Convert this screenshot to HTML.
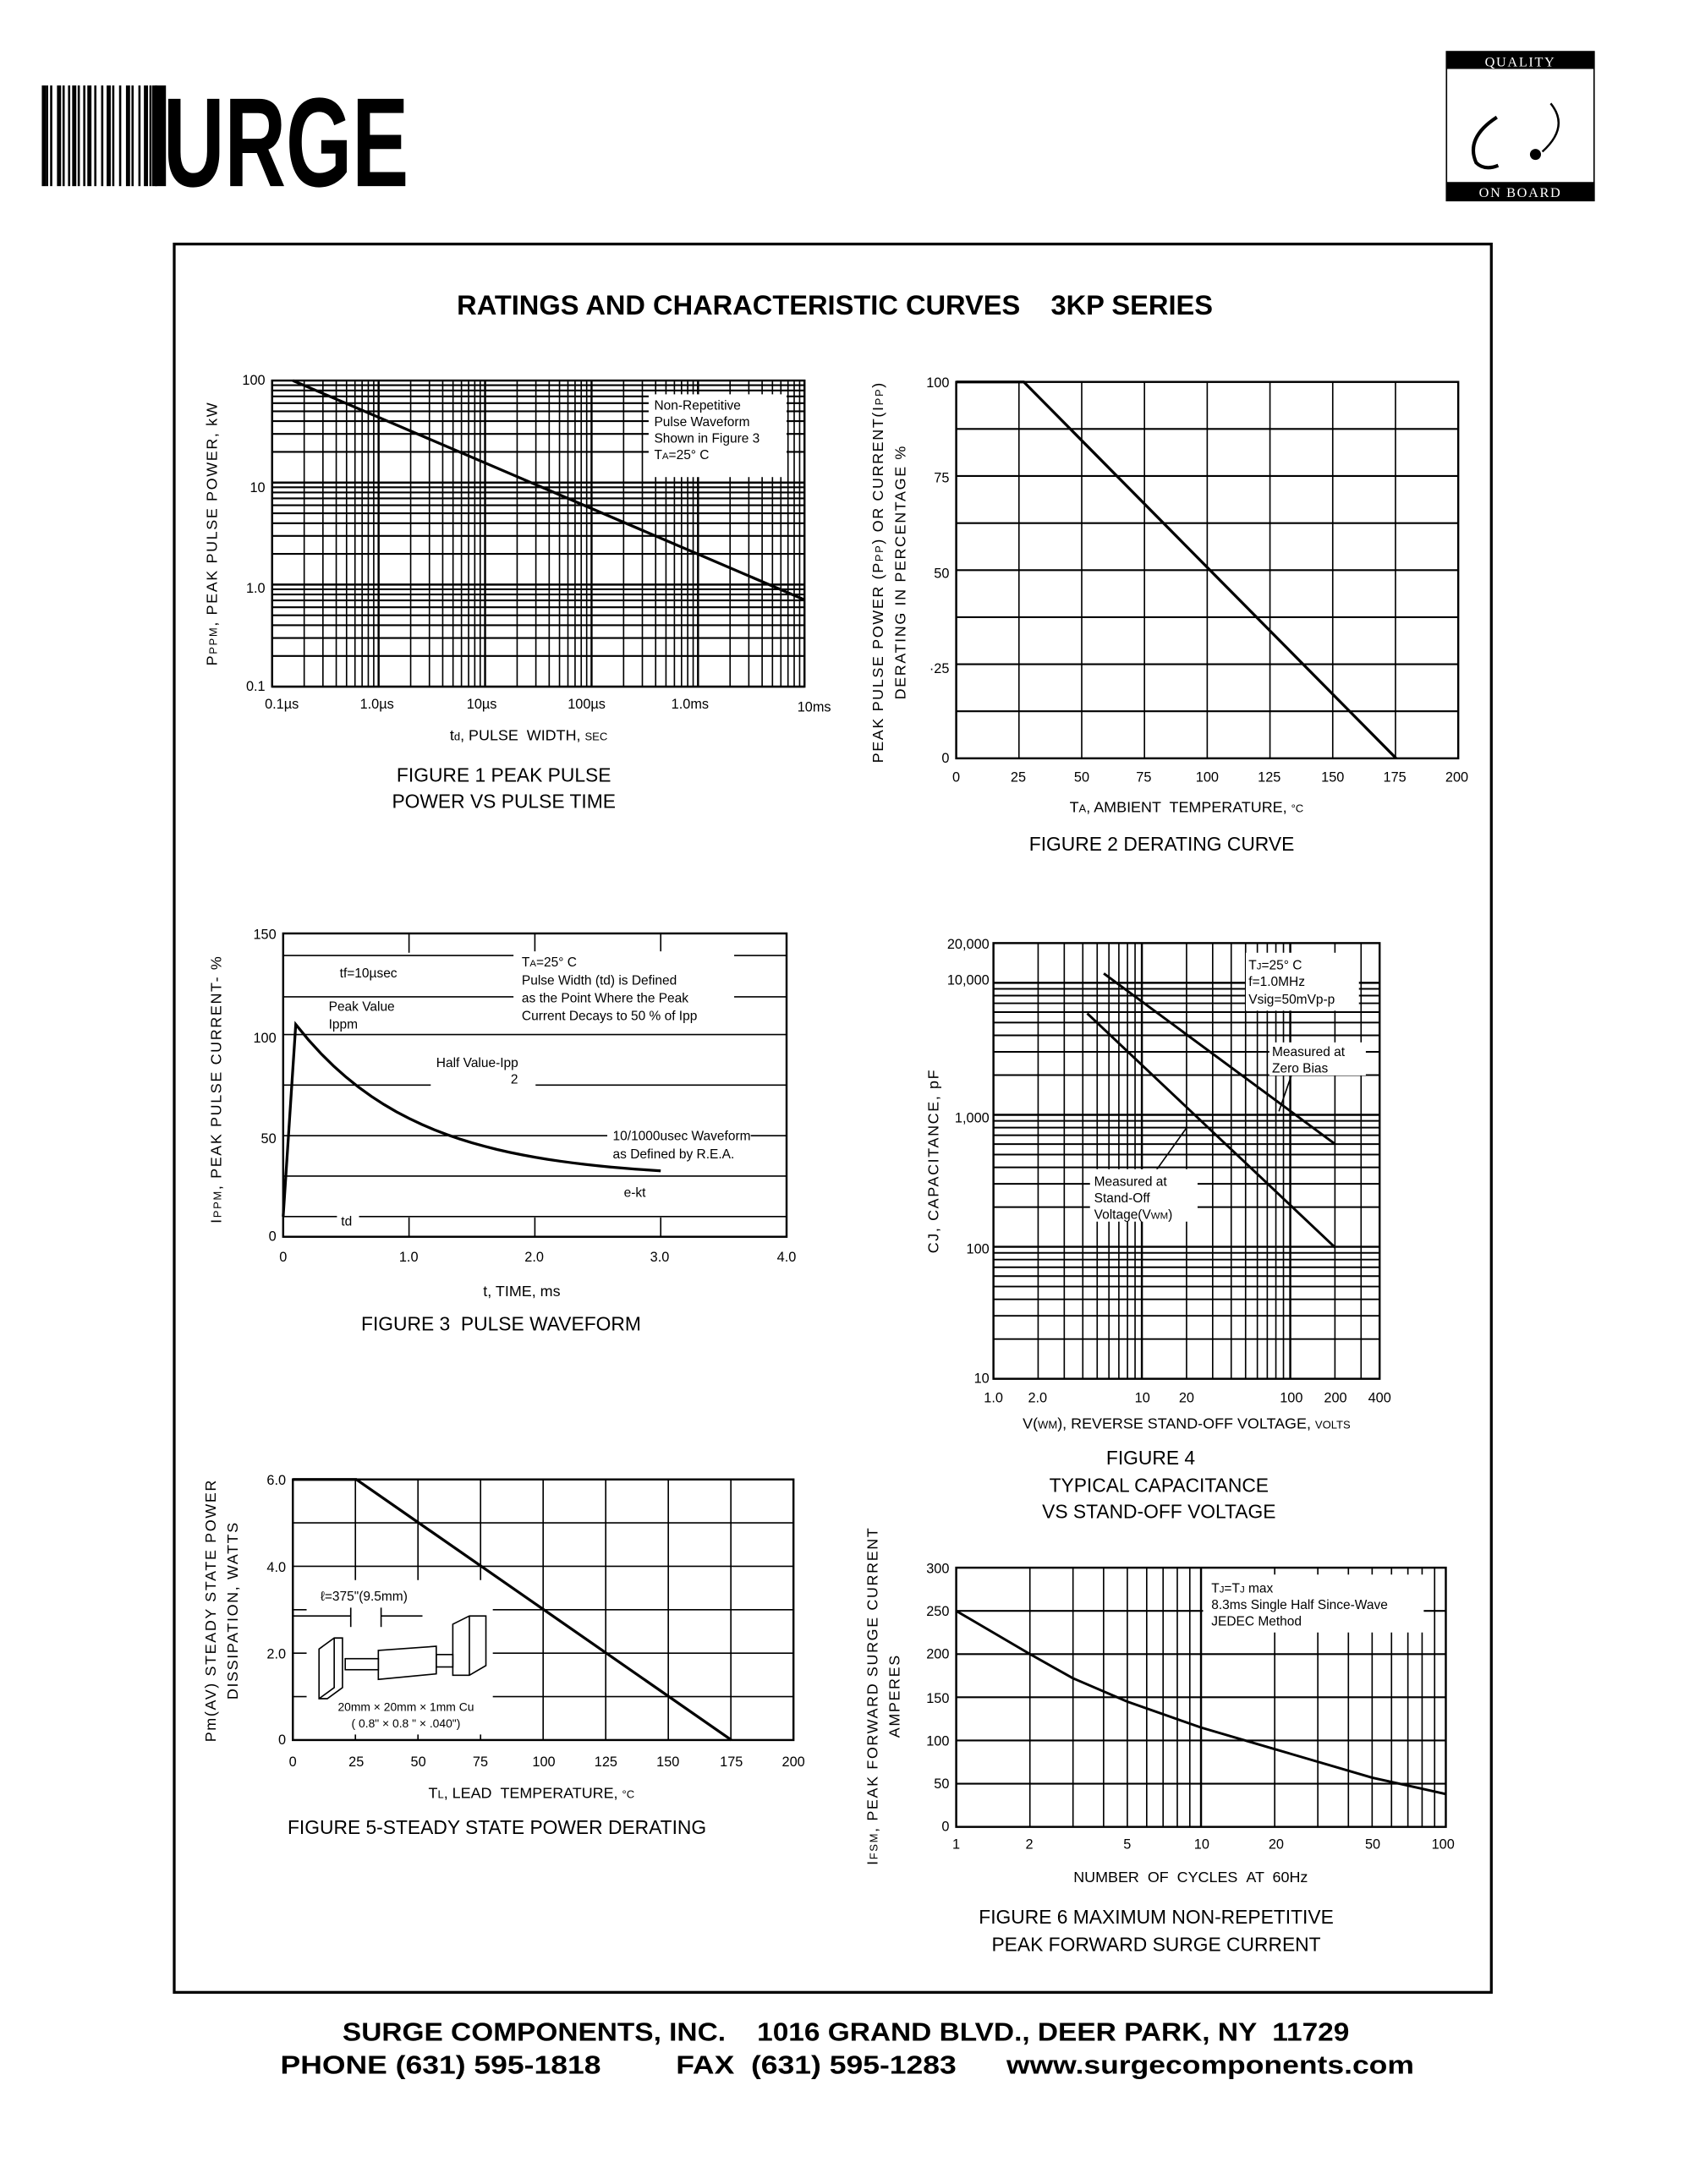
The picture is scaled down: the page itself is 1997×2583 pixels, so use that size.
<!DOCTYPE html>
<html><head><meta charset="utf-8"><style>
html,body{margin:0;padding:0;background:#fff}
svg{display:block}
text{font-family:"Liberation Sans",Arial,sans-serif;fill:#000}
</style></head><body>
<svg id="s" width="1997" height="2583" viewBox="0 0 1224 1584" xmlns="http://www.w3.org/2000/svg">
<rect width="1224" height="1584" fill="#fff"/>
<!-- logo -->
<g id="bars"></g>
<text x="118" y="135" font-size="92" font-weight="bold" transform="scale(1,1)" textLength="178" lengthAdjust="spacingAndGlyphs" style="font-family:'Liberation Sans Narrow','Liberation Sans',sans-serif">URGE</text>
<!-- quality box -->
<rect x="1048.5" y="37.5" width="107" height="108" fill="none" stroke="#000"/>
<rect x="1048" y="37" width="108" height="13" fill="#000"/>
<rect x="1048" y="132" width="108" height="14" fill="#000"/>
<text x="1102" y="48" font-size="10" text-anchor="middle" style="fill:#fff;font-family:'Liberation Serif',serif" letter-spacing="1">QUALITY</text>
<text x="1102" y="143" font-size="10" text-anchor="middle" style="fill:#fff;font-family:'Liberation Serif',serif" letter-spacing="1">ON BOARD</text>
<path d="M1085 85 Q1062 100 1070 118 Q1076 124 1086 120" fill="none" stroke="#000" stroke-width="2.5"/>
<path d="M1124 75 Q1138 92 1118 110" fill="none" stroke="#000" stroke-width="1.5"/>
<circle cx="1113" cy="112" r="4" fill="#000"/>
<!-- frame -->
<rect x="126" y="177" width="955" height="1268" fill="none" stroke="#000" stroke-width="2"/>
<text x="605" y="228" font-size="20" font-weight="bold" text-anchor="middle">RATINGS AND CHARACTERISTIC CURVES &#160;&#160; 3KP SERIES</text>
<g id="grids" stroke="#000" fill="none"></g>

<!-- FIG 1 -->
<g font-size="10">
<text x="192" y="279" text-anchor="end">100</text>
<text x="192" y="357" text-anchor="end">10</text>
<text x="192" y="430" text-anchor="end">1.0</text>
<text x="192" y="501" text-anchor="end">0.1</text>
<text x="204" y="514" text-anchor="middle">0.1µs</text>
<text x="273" y="514" text-anchor="middle">1.0µs</text>
<text x="349" y="514" text-anchor="middle">10µs</text>
<text x="425" y="514" text-anchor="middle">100µs</text>
<text x="500" y="514" text-anchor="middle">1.0ms</text>
<text x="590" y="516" text-anchor="middle">10ms</text>
</g>
<rect x="470" y="286" width="100" height="60" fill="#fff"/>
<g font-size="9.5"><text x="474" y="297">Non-Repetitive</text><text x="474" y="309">Pulse Waveform</text><text x="474" y="321">Shown in Figure 3</text><text x="474" y="333">T<tspan font-size="7">A</tspan>=25° C</text></g>
<text x="383" y="537" font-size="11" text-anchor="middle">t<tspan font-size="8">d</tspan>, PULSE &#160;WIDTH, <tspan font-size="8">SEC</tspan></text>
<text x="365" y="567" font-size="14" text-anchor="middle">FIGURE 1 PEAK PULSE</text>
<text x="365" y="586" font-size="14" text-anchor="middle">POWER VS PULSE TIME</text>
<text transform="translate(157,387) rotate(-90)" font-size="11" text-anchor="middle" letter-spacing="1">P<tspan font-size="8">PPM</tspan>, PEAK PULSE POWER, kW</text>

<!-- FIG 2 -->
<g font-size="10">
<text x="688" y="281" text-anchor="end">100</text><text x="688" y="350" text-anchor="end">75</text><text x="688" y="419" text-anchor="end">50</text><text x="688" y="488" text-anchor="end">·25</text><text x="688" y="553" text-anchor="end">0</text>
<text x="693" y="567" text-anchor="middle">0</text><text x="738" y="567" text-anchor="middle">25</text><text x="784" y="567" text-anchor="middle">50</text><text x="829" y="567" text-anchor="middle">75</text><text x="875" y="567" text-anchor="middle">100</text><text x="920" y="567" text-anchor="middle">125</text><text x="966" y="567" text-anchor="middle">150</text><text x="1011" y="567" text-anchor="middle">175</text><text x="1056" y="567" text-anchor="middle">200</text>
</g>
<text x="860" y="589" font-size="11" text-anchor="middle">T<tspan font-size="8">A</tspan>, AMBIENT &#160;TEMPERATURE, <tspan font-size="8">°C</tspan></text>
<text x="842" y="617" font-size="14" text-anchor="middle">FIGURE 2 DERATING CURVE</text>
<text transform="translate(640,415) rotate(-90)" font-size="11" text-anchor="middle" letter-spacing="1">PEAK PULSE POWER (P<tspan font-size="8">PP</tspan>) OR CURRENT(I<tspan font-size="8">PP</tspan>)</text>
<text transform="translate(656,415) rotate(-90)" font-size="11" text-anchor="middle" letter-spacing="1">DERATING IN PERCENTAGE %</text>

<!-- FIG 3 -->
<g font-size="10">
<text x="200" y="681" text-anchor="end">150</text><text x="200" y="756" text-anchor="end">100</text><text x="200" y="829" text-anchor="end">50</text><text x="200" y="900" text-anchor="end">0</text>
<text x="205" y="915" text-anchor="middle">0</text><text x="296" y="915" text-anchor="middle">1.0</text><text x="387" y="915" text-anchor="middle">2.0</text><text x="478" y="915" text-anchor="middle">3.0</text><text x="570" y="915" text-anchor="middle">4.0</text>
</g>
<g font-size="9.5">
<rect x="372" y="690" width="160" height="52" fill="#fff"/>
<text x="378" y="701">T<tspan font-size="7">A</tspan>=25° C</text><text x="378" y="714">Pulse Width (td) is Defined</text><text x="378" y="727">as the Point Where the Peak</text><text x="378" y="740">Current Decays to 50 % of Ipp</text>
<rect x="244" y="700" width="56" height="12" fill="#fff"/><text x="246" y="709">tf=10µsec</text>
<text x="238" y="733">Peak Value</text><text x="238" y="746">Ippm</text>
<rect x="312" y="764" width="76" height="24" fill="#fff"/><text x="316" y="774">Half Value-Ipp</text><text x="370" y="786">2</text>
<rect x="440" y="818" width="104" height="24" fill="#fff"/><text x="444" y="827">10/1000usec Waveform</text><text x="444" y="840">as Defined by R.E.A.</text>
<rect x="448" y="858" width="28" height="12" fill="#fff"/><text x="452" y="868">e-kt</text>
<rect x="244" y="880" width="16" height="12" fill="#fff"/><text x="247" y="889">td</text>
</g>
<text x="378" y="940" font-size="11" text-anchor="middle">t, TIME, ms</text>
<text x="363" y="965" font-size="14" text-anchor="middle">FIGURE 3 &#160;PULSE WAVEFORM</text>
<text transform="translate(160,790) rotate(-90)" font-size="11" text-anchor="middle" letter-spacing="1">I<tspan font-size="8">PPM</tspan>, PEAK PULSE CURRENT- %</text>

<!-- FIG 4 -->
<g font-size="10">
<text x="717" y="688" text-anchor="end">20,000</text><text x="717" y="714" text-anchor="end">10,000</text><text x="717" y="814" text-anchor="end">1,000</text><text x="717" y="909" text-anchor="end">100</text><text x="717" y="1003" text-anchor="end">10</text>
<text x="720" y="1017" text-anchor="middle">1.0</text><text x="752" y="1017" text-anchor="middle">2.0</text><text x="828" y="1017" text-anchor="middle">10</text><text x="860" y="1017" text-anchor="middle">20</text><text x="936" y="1017" text-anchor="middle">100</text><text x="968" y="1017" text-anchor="middle">200</text><text x="1000" y="1017" text-anchor="middle">400</text>
</g>
<g font-size="9.5">
<rect x="903" y="691" width="82" height="42" fill="#fff"/>
<text x="905" y="703">T<tspan font-size="7">J</tspan>=25° C</text><text x="905" y="715">f=1.0MHz</text><text x="905" y="728">Vsig=50mVp-p</text>
<rect x="920" y="756" width="70" height="24" fill="#fff"/><text x="922" y="766">Measured at</text><text x="922" y="778">Zero Bias</text>
<rect x="790" y="848" width="78" height="38" fill="#fff"/><text x="793" y="860">Measured at</text><text x="793" y="872">Stand-Off</text><text x="793" y="884">Voltage(V<tspan font-size="7">WM</tspan>)</text>
</g>
<text x="860" y="1036" font-size="11" text-anchor="middle">V(<tspan font-size="8">WM</tspan>), REVERSE STAND-OFF VOLTAGE, <tspan font-size="8">VOLTS</tspan></text>
<text x="834" y="1062" font-size="14" text-anchor="middle">FIGURE 4</text>
<text x="840" y="1082" font-size="14" text-anchor="middle">TYPICAL CAPACITANCE</text>
<text x="840" y="1101" font-size="14" text-anchor="middle">VS STAND-OFF VOLTAGE</text>
<text transform="translate(680,842) rotate(-90)" font-size="11" text-anchor="middle" letter-spacing="1">CJ, CAPACITANCE, pF</text>

<!-- FIG 5 -->
<g font-size="10">
<text x="207" y="1077" text-anchor="end">6.0</text><text x="207" y="1140" text-anchor="end">4.0</text><text x="207" y="1203" text-anchor="end">2.0</text><text x="207" y="1265" text-anchor="end">0</text>
<text x="212" y="1281" text-anchor="middle">0</text><text x="258" y="1281" text-anchor="middle">25</text><text x="303" y="1281" text-anchor="middle">50</text><text x="348" y="1281" text-anchor="middle">75</text><text x="394" y="1281" text-anchor="middle">100</text><text x="439" y="1281" text-anchor="middle">125</text><text x="484" y="1281" text-anchor="middle">150</text><text x="530" y="1281" text-anchor="middle">175</text><text x="575" y="1281" text-anchor="middle">200</text>
</g>
<rect x="222" y="1146" width="135" height="112" fill="#fff"/>
<text x="232" y="1161" font-size="9.5">ℓ=375"(9.5mm)</text>
<g stroke="#000" fill="none">
<line x1="212" y1="1172" x2="254" y2="1172"/><line x1="254" y1="1166" x2="254" y2="1180"/><line x1="276" y1="1166" x2="276" y2="1180"/><line x1="276" y1="1172" x2="306" y2="1172"/>
<path d="M231 1196 L242 1188 L248 1188 L248 1224 L237 1232 L231 1232 Z M242 1188 L242 1224 L231 1232"/>
<rect x="250" y="1203" width="24" height="8"/>
<path d="M274 1197 L316 1194 L316 1214 L274 1218 Z"/>
<rect x="316" y="1200" width="12" height="9"/>
<path d="M328 1178 L340 1172 L352 1172 L352 1208 L340 1215 L328 1215 Z M340 1172 L340 1215"/>
</g>
<text x="294" y="1241" font-size="8.5" text-anchor="middle">20mm × 20mm × 1mm Cu</text>
<text x="294" y="1253" font-size="8.5" text-anchor="middle">( 0.8" × 0.8 " × .040")</text>
<text x="385" y="1304" font-size="11" text-anchor="middle">T<tspan font-size="8">L</tspan>, LEAD &#160;TEMPERATURE, <tspan font-size="8">°C</tspan></text>
<text x="360" y="1330" font-size="14" text-anchor="middle">FIGURE 5-STEADY STATE POWER DERATING</text>
<text transform="translate(156,1168) rotate(-90)" font-size="11" text-anchor="middle" letter-spacing="1">Pm(AV) STEADY STATE POWER</text>
<text transform="translate(172,1168) rotate(-90)" font-size="11" text-anchor="middle" letter-spacing="1">DISSIPATION, WATTS</text>

<!-- FIG 6 -->
<g font-size="10">
<text x="688" y="1141" text-anchor="end">300</text><text x="688" y="1172" text-anchor="end">250</text><text x="688" y="1203" text-anchor="end">200</text><text x="688" y="1235" text-anchor="end">150</text><text x="688" y="1266" text-anchor="end">100</text><text x="688" y="1297" text-anchor="end">50</text><text x="688" y="1328" text-anchor="end">0</text>
<text x="693" y="1341" text-anchor="middle">1</text><text x="746" y="1341" text-anchor="middle">2</text><text x="817" y="1341" text-anchor="middle">5</text><text x="871" y="1341" text-anchor="middle">10</text><text x="925" y="1341" text-anchor="middle">20</text><text x="995" y="1341" text-anchor="middle">50</text><text x="1046" y="1341" text-anchor="middle">100</text>
</g>
<rect x="872" y="1142" width="160" height="42" fill="#fff"/>
<g font-size="9.5"><text x="878" y="1155">T<tspan font-size="7">J</tspan>=T<tspan font-size="7">J</tspan> max</text><text x="878" y="1167">8.3ms Single Half Since-Wave</text><text x="878" y="1179">JEDEC Method</text></g>
<text x="863" y="1365" font-size="11" text-anchor="middle">NUMBER &#160;OF &#160;CYCLES &#160;AT &#160;60Hz</text>
<text x="838" y="1395" font-size="14" text-anchor="middle">FIGURE 6 MAXIMUM NON-REPETITIVE</text>
<text x="838" y="1415" font-size="14" text-anchor="middle">PEAK FORWARD SURGE CURRENT</text>
<text transform="translate(636,1230) rotate(-90)" font-size="11" text-anchor="middle" letter-spacing="1">I<tspan font-size="8">FSM</tspan>, PEAK FORWARD SURGE CURRENT</text>
<text transform="translate(652,1230) rotate(-90)" font-size="11" text-anchor="middle" letter-spacing="1">AMPERES</text>

<!-- footer -->
<text x="613" y="1480" font-size="19" font-weight="bold" text-anchor="middle" textLength="730" lengthAdjust="spacingAndGlyphs">SURGE COMPONENTS, INC. &#160;&#160; 1016 GRAND BLVD., DEER PARK, NY &#160;11729</text>
<text x="614" y="1504" font-size="19" font-weight="bold" text-anchor="middle" textLength="822" lengthAdjust="spacingAndGlyphs">PHONE (631) 595-1818 &#160;&#160;&#160;&#160;&#160;&#160;&#160; FAX &#160;(631) 595-1283 &#160;&#160;&#160;&#160; www.surgecomponents.com</text>
</svg>
<script>
var NS="http://www.w3.org/2000/svg",g=document.getElementById('grids'),b=document.getElementById('bars');
function L(x1,y1,x2,y2,w,p){var e=document.createElementNS(NS,'line');e.setAttribute('x1',x1);e.setAttribute('y1',y1);e.setAttribute('x2',x2);e.setAttribute('y2',y2);e.setAttribute('stroke-width',w||1);(p||g).appendChild(e);}
function P(d,w){var e=document.createElementNS(NS,'path');e.setAttribute('d',d);e.setAttribute('stroke-width',w||1.5);e.setAttribute('fill','none');g.appendChild(e);}
function R(x,y,w,h){var e=document.createElementNS(NS,'rect');e.setAttribute('x',x);e.setAttribute('y',y);e.setAttribute('width',w);e.setAttribute('height',h);e.setAttribute('stroke-width',1.5);g.insertBefore(e,g.firstChild);}
// logo bars
var bx=[30,33,36,41,45,49,52,56,60,63,68,73,77,81,86,91,95,100,104,108,112];
bx.forEach(function(x,i){var r=document.createElementNS(NS,'rect');r.setAttribute('x',x);r.setAttribute('y',62);r.setAttribute('width',i%3==0?3:1.6);r.setAttribute('height',73);b.appendChild(r);});
var r2=document.createElementNS(NS,'rect');r2.setAttribute('x',110);r2.setAttribute('y',62);r2.setAttribute('width',10);r2.setAttribute('height',73);b.appendChild(r2);
// fig1
(function(){var x0=197,x1=583,y0=276,y1=498;R(x0,y0,x1-x0,y1-y0);var dx=(x1-x0)/5,dy=(y1-y0)/3;
for(var d=0;d<5;d++)for(var k=1;k<10;k++){var x=x0+dx*(d+Math.log10(k));L(x,y0,x,y1,k==1?1.5:1);}
for(var d=0;d<3;d++)for(var k=1;k<10;k++){var y=y1-dy*(d+Math.log10(k));L(x0,y,x1,y,k==1?1.5:1.3);}
P('M212 276 L583 435',2);})();
// fig2
(function(){var x0=693,x1=1057,y0=277,y1=550;R(x0,y0,x1-x0,y1-y0);for(var i=1;i<8;i++){var x=x0+i*(x1-x0)/8;L(x,y0,x,y1);}
for(var i=1;i<8;i++){var y=y0+i*(y1-y0)/8;L(x0,y,x1,y,1.3);}P('M693 277 L742 277 L1012 550',2);})();
// fig3
(function(){var x0=205,x1=570,y0=677,y1=897;R(x0,y0,x1-x0,y1-y0);var sy=(y1-y0)/150,sx=(x1-x0)/4;
[100,75,50,30,10].forEach(function(v){L(x0,y1-v*sy,x1,y1-v*sy,1);});
for(var i=1;i<4;i++){L(x0+i*sx,y0,x0+i*sx,y0+14);L(x0+i*sx,y1-14,x0+i*sx,y1);}
L(x0,y0+16,x1,y0+16);L(x0,y0+46,x1,y0+46);
var d='M'+x0+' '+(y1-10*sy)+' L'+(x0+0.1*sx)+' '+(y1-105*sy);
for(var t=0.1;t<=3.0001;t+=0.1){var v=29+76*Math.exp(-(t-0.1)*1.05);d+=' L'+(x0+t*sx)+' '+(y1-v*sy);}
P(d,2);})();
// fig4
(function(){var x0=720,x1=1000,y0=684,y1=1000,dy=(y1-y0)/Math.log10(2000),dx=(x1-x0)/Math.log10(400);R(x0,y0,x1-x0,y1-y0);
[2,3,4,5,6,7,8,9,10,20,30,40,50,60,70,80,90,100,200,300].forEach(function(v){var x=x0+dx*Math.log10(v);L(x,y0,x,y1,(v==10||v==100)?1.5:1);});
[20,30,40,50,60,70,80,90,100,200,300,400,500,600,700,800,900,1000,2000,3000,4000,5000,6000,7000,8000,9000,10000].forEach(function(v){var y=y1-dy*Math.log10(v/10);L(x0,y,x1,y,(v==100||v==1000||v==10000)?1.5:1.2);});
P('M800 706 L968 830',1.8);P('M788 735 L968 905',1.8);
P('M936 780 L927 806',1);P('M860 818 L830 860',1);})();
// fig5
(function(){var x0=212,x1=575,y0=1073,y1=1262;R(x0,y0,x1-x0,y1-y0);for(var i=1;i<8;i++){var x=x0+i*(x1-x0)/8;L(x,y0,x,y1);}
for(var i=1;i<6;i++){var y=y0+i*(y1-y0)/6;L(x0,y,x1,y);}P('M212 1073 L258 1073 L530 1262',2);})();
// fig6
(function(){var x0=693,x1=1048,y0=1137,y1=1325,dx=(x1-x0)/2,sy=(y1-y0)/300;R(x0,y0,x1-x0,y1-y0);
[2,3,4,5,6,7,8,9,10,20,30,40,50,60,70,80,90].forEach(function(v){var x=x0+dx*Math.log10(v);L(x,y0,x,y1,v==10?1.5:1);});
for(var v=50;v<300;v+=50)L(x0,y1-v*sy,x1,y1-v*sy,1.3);
var pts=[[1,250],[2,200],[3,172],[5,145],[10,115],[20,90],[50,57],[100,38]],d='';
pts.forEach(function(p,i){d+=(i?' L':'M')+(x0+dx*Math.log10(p[0]))+' '+(y1-p[1]*sy);});P(d,1.8);})();
// white-fill plot rects
Array.prototype.forEach.call(g.querySelectorAll('rect'),function(r){r.setAttribute('fill','none');});
</script>
</body></html>
